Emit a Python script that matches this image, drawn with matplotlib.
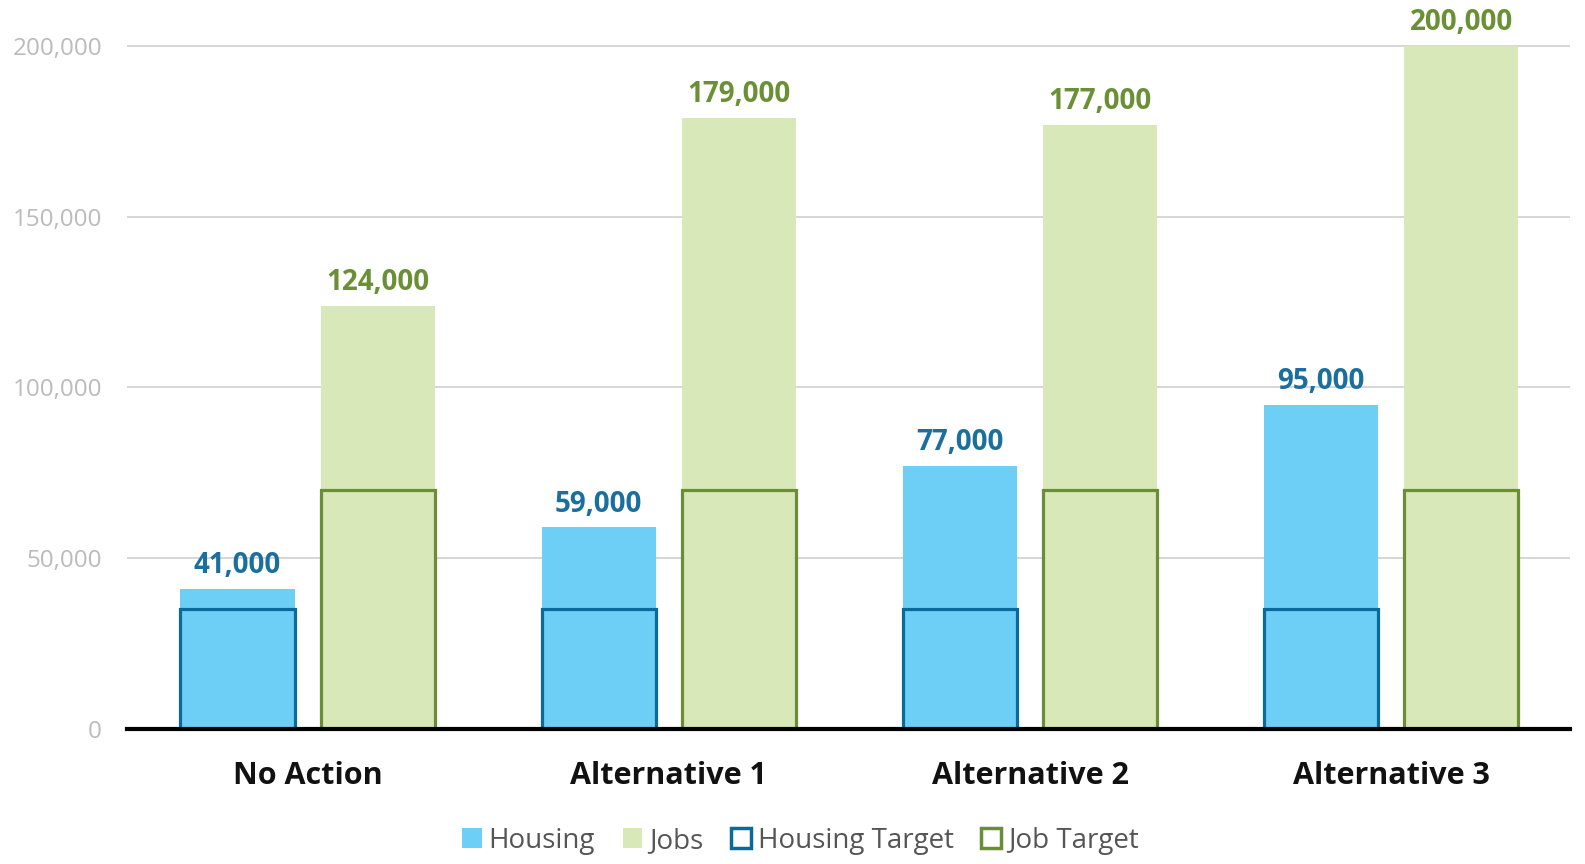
import matplotlib
matplotlib.use('Agg')
import matplotlib.pyplot as plt
import numpy as np
from matplotlib.patches import Patch
from matplotlib.ticker import FuncFormatter

categories = ['No Action', 'Alternative 1', 'Alternative 2', 'Alternative 3']
housing = [41000, 59000, 77000, 95000]
jobs = [124000, 179000, 177000, 200000]
housing_target = [35000, 35000, 35000, 35000]
job_target = [70000, 70000, 70000, 70000]
yticks = [0, 50000, 100000, 150000, 200000]

HOUSING = '#6dcff6'
JOBS = '#d9e8b8'
HOUSING_EDGE = '#0b6a9c'
JOBS_EDGE = '#6a8e35'
HOUSING_TXT = '#1a6f9f'
JOBS_TXT = '#6a9035'

plt.rcParams['font.family'] = ['Open Sans', 'DejaVu Sans']

fig = plt.figure(figsize=(15.85, 8.64), dpi=100)
ax = fig.add_axes([0.0801, 0.1563, 0.9105, 0.83])

x = np.arange(len(categories))
w = 0.316
off = 0.194

ax.bar(x - off, housing, w, color=HOUSING, zorder=2)
ax.bar(x + off, jobs, w, color=JOBS, zorder=2)
ax.bar(x - off, housing_target, w, facecolor='none', edgecolor=HOUSING_EDGE, linewidth=2.3, zorder=3)
ax.bar(x + off, job_target, w, facecolor='none', edgecolor=JOBS_EDGE, linewidth=2.3, zorder=3)

for xi, v in zip(x, housing):
    ax.text(xi - off, v + 2500, f'{v:,}', ha='center', va='bottom', fontsize=20,
            fontweight='bold', color=HOUSING_TXT)
for xi, v in zip(x, jobs):
    ax.text(xi + off, v + 2500, f'{v:,}', ha='center', va='bottom', fontsize=20,
            fontweight='bold', color=JOBS_TXT)

ax.set_xlim(-0.5, 3.495)
ax.set_ylim(0, 210000)
ax.set_yticks(yticks)
ax.yaxis.set_major_formatter(FuncFormatter(lambda v, p: f'{int(v):,}'))
ax.set_xticks(x)
ax.set_xticklabels(categories, fontsize=22, fontweight='bold', color='#111111')
ax.tick_params(axis='x', length=0, pad=23)
ax.tick_params(axis='y', length=0, pad=18, labelsize=17.5, labelcolor='#bbbbbb')
ax.grid(axis='y', color='#d6d6d6', linewidth=1.4, zorder=0)
ax.set_axisbelow(True)
for s in ['top', 'right', 'left']:
    ax.spines[s].set_visible(False)
ax.spines['bottom'].set_linewidth(3)
ax.spines['bottom'].set_color('#000000')
ax.spines['bottom'].set_zorder(4)

handles = [
    Patch(facecolor=HOUSING, edgecolor='none'),
    Patch(facecolor=JOBS, edgecolor='none'),
    Patch(facecolor='white', edgecolor=HOUSING_EDGE, linewidth=2.5),
    Patch(facecolor='white', edgecolor=JOBS_EDGE, linewidth=2.5),
]
labels = ['Housing', 'Jobs', 'Housing Target', 'Job Target']
leg = fig.legend(handles, labels, loc='center', bbox_to_anchor=(0.505, 0.027), ncol=4,
                 frameon=False, fontsize=20, handlelength=0.7, handleheight=0.7,
                 handletextpad=0.25, columnspacing=1.0)
for t in leg.get_texts():
    t.set_color('#555555')

fig.savefig('out.png', dpi=100)
